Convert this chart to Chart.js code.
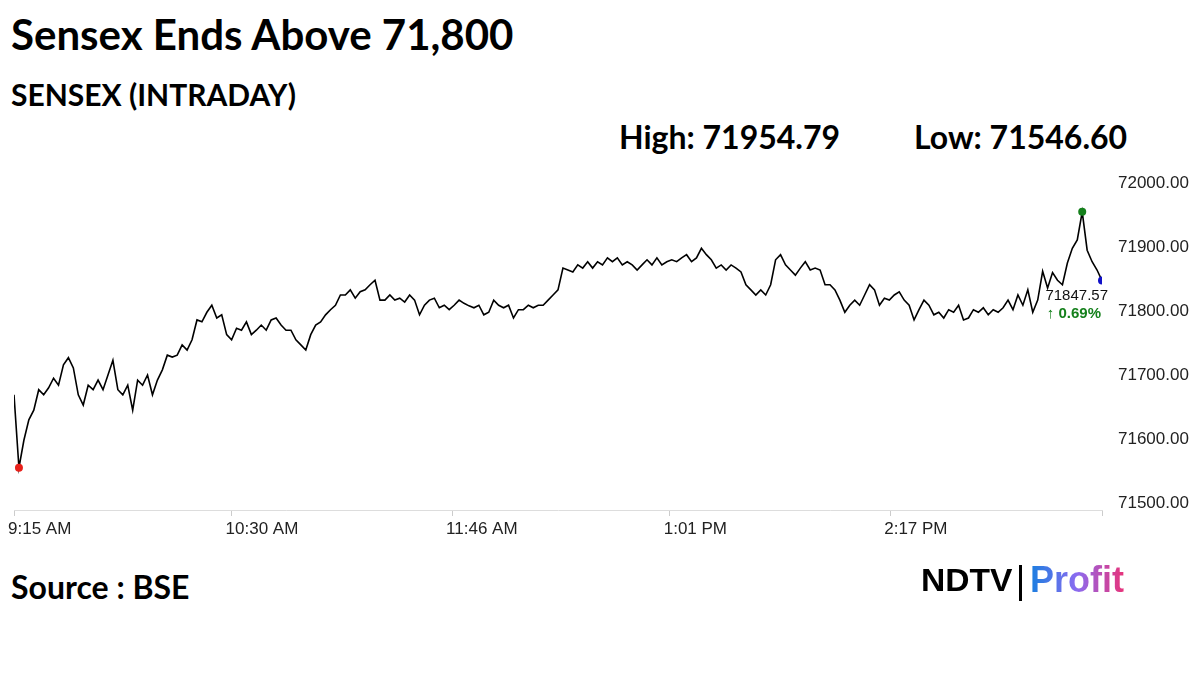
<!DOCTYPE html>
<html><head><meta charset="utf-8">
<script src="https://cdn.jsdelivr.net/npm/chart.js@4"></script>
<style>
body{margin:0;background:#fff;width:1200px;height:675px;position:relative;overflow:hidden;font-family:Lato,"Open Sans",sans-serif;color:#000}
.t{position:absolute;white-space:nowrap}
#wrap{position:absolute;left:0;top:160px;width:1200px;height:390px}
</style></head><body>
<div class="t" style="left:11px;top:9px;font-size:42px;font-weight:700">Sensex Ends Above 71,800</div>
<div class="t" style="left:11px;top:76px;font-size:30px;font-weight:700">SENSEX (INTRADAY)</div>
<div class="t" style="left:619px;top:117px;font-size:32px;font-weight:700">High: 71954.79</div>
<div class="t" style="left:914px;top:117px;font-size:32px;font-weight:700">Low: 71546.60</div>
<div class="t" style="left:11px;top:567px;font-size:32px;font-weight:700">Source : BSE</div>
<div class="t" style="left:921px;top:562px;font-size:32px;font-weight:900;font-family:'Liberation Sans',Arial;letter-spacing:0px;transform:scaleX(1.05);transform-origin:left">NDTV</div>
<div class="t" style="left:1019px;top:565px;width:3px;height:36px;background:#000"></div>
<div class="t" style="left:1030px;top:559px;font-size:36px;font-weight:700;font-family:'Liberation Sans',Arial;background:linear-gradient(90deg,#1a7fe0,#8b6bf0,#e8337a);-webkit-background-clip:text;color:transparent">Profit</div>
<div id="wrap"><canvas id="c"></canvas></div>
<script>
const tickMinutes = [0, 75, 151, 226, 302, 375];
const tickLabels = ["9:15 AM", "10:30 AM", "11:46 AM", "1:01 PM", "2:17 PM", ""];
const yTicks = [71500, 71600, 71700, 71800, 71900, 72000];
const sessionMinutes = 375;
const prices = [71669,71555,71598,71630,71645,71677,71669,71680,71695,71684,71716,71727,71711,71669,71653,71684,71677,71692,71677,71700,
71723,71677,71669,71684,71645,71692,71684,71700,71669,71692,71708,71731,71728,71731,71747,71739,71755,71786,71783,71798,
71809,71789,71794,71763,71755,71773,71770,71783,71763,71770,71778,71770,71786,71789,71778,71770,71770,71755,71747,71739,
71763,71778,71783,71794,71802,71809,71825,71825,71833,71820,71830,71833,71841,71848,71817,71817,71825,71817,71820,71814,
71825,71817,71794,71809,71817,71820,71805,71809,71802,71809,71817,71812,71808,71805,71809,71794,71798,71817,71809,71805,
71809,71789,71802,71802,71809,71805,71809,71809,71817,71825,71833,71867,71864,71861,71872,71867,71877,71867,71877,71872,
71883,71877,71883,71872,71877,71872,71864,71872,71880,71872,71883,71872,71877,71880,71877,71883,71888,71877,71883,71898,
71888,71880,71867,71872,71864,71872,71867,71861,71841,71833,71825,71833,71825,71841,71880,71888,71872,71864,71856,71867,
71877,71864,71867,71864,71841,71841,71833,71817,71798,71809,71817,71809,71825,71841,71833,71809,71820,71817,71825,71830,
71817,71809,71786,71802,71817,71809,71794,71798,71789,71802,71798,71809,71786,71789,71802,71798,71805,71794,71802,71798,
71805,71817,71802,71825,71809,71833,71798,71817,71862,71836,71860,71848,71841,71875,71898,71911,71955,71895,71877,71864,71847.57];
const closeLabel = "71847.57";
const changeLabel = "\u2191 0.69%";

const n = prices.length;
const pts = prices.map((v,i)=>({x:i*sessionMinutes/(n-1), y:v}));
const iMin = prices.indexOf(Math.min(...prices)), iMax = prices.indexOf(Math.max(...prices));
const radius = prices.map((v,i)=> (i===iMin||i===iMax||i===n-1)?4:0);
const colors = prices.map((v,i)=> i===iMin?'#e8201a':i===iMax?'#15801c':'#1010c8');

const endLabel = {id:'endLabel',afterDatasetsDraw(chart){
  const m = chart.getDatasetMeta(0).data[n-1];
  const ctx = chart.ctx; ctx.save();
  ctx.font = '15px "Liberation Sans", Arial'; ctx.fillStyle='#111'; ctx.textAlign='right'; ctx.textBaseline='middle';
  ctx.fillText(closeLabel, m.x+6, m.y+15);
  ctx.font = 'bold 15px "Liberation Sans", Arial'; ctx.fillStyle='#15801c';
  ctx.fillText(changeLabel, m.x-1, m.y+33);
  ctx.restore();
}};

new Chart(document.getElementById('c'),{
  type:'line',
  data:{datasets:[{data:pts,borderColor:'#000',borderWidth:1.6,tension:0,pointRadius:radius,pointBackgroundColor:colors,pointBorderWidth:0,pointHoverRadius:0}]},
  options:{responsive:true,maintainAspectRatio:false,animation:false,
    layout:{padding:{left:14,top:23,right:0,bottom:0}},
    plugins:{legend:{display:false},tooltip:{enabled:false}},
    scales:{
      x:{type:'linear',min:0,max:sessionMinutes,
        afterBuildTicks(s){s.ticks=tickMinutes.map(v=>({value:v}));},
        afterFit(s){s.height=40;s.paddingLeft=0;s.paddingRight=0;},
        ticks:{callback:(v)=>tickLabels[tickMinutes.indexOf(v)],font:{family:'"Liberation Sans", Arial',size:17},color:'#222',maxRotation:0,autoSkip:false,padding:3,align:'start',labelOffset:-6},
        grid:{drawOnChartArea:false,drawTicks:true,tickLength:6,color:'#ccc'},
        border:{color:'#ddd'}},
      y:{position:'right',min:71489,max:72000,
        afterBuildTicks(s){s.ticks=yTicks.map(v=>({value:v}));},
        afterFit(s){s.width=98;},
        ticks:{callback:(v)=>v.toFixed(2),font:{family:'"Liberation Sans", Arial',size:17},color:'#222',padding:8},
        grid:{display:false},border:{display:false}}
    }},
  plugins:[endLabel]
});
</script>
</body></html>
